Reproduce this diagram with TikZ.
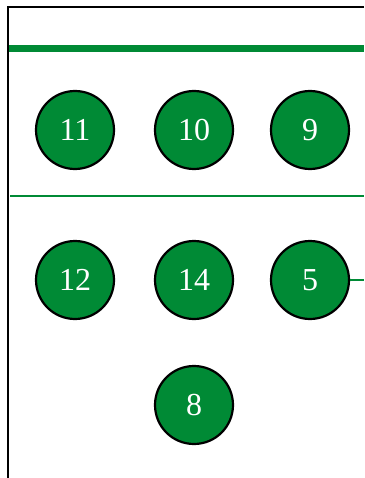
\documentclass[tikz,border=0pt]{standalone}
\usepackage{fontspec}
\setmainfont{Liberation Serif}
\definecolor{pgreen}{RGB}{0,138,53}
\begin{document}
\begin{tikzpicture}[x=1pt,y=-1pt,
  stop/.style={circle,draw=black,line width=2.2pt,fill=pgreen,minimum size=78pt,inner sep=0pt,
    text=white,font=\fontsize{32}{32}\selectfont},
  frame/.style={black,line width=2pt},
  thick rule/.style={pgreen,line width=7pt},
  thin rule/.style={pgreen,line width=2pt}]
\useasboundingbox (0,0) rectangle (364,478);
\coordinate (tl) at (8,7);
\coordinate (tr) at (364,7);
\coordinate (bl) at (8,478);
\draw[frame] (tr) -- (tl) -- (bl);
\coordinate (g1a) at (9,48.5);
\coordinate (g1b) at (364,48.5);
\draw[thick rule] (g1a) -- (g1b);
\coordinate (g2a) at (10,196);
\coordinate (g2b) at (364,196);
\draw[thin rule] (g2a) -- (g2b);
\node[stop] (n11) at (75,130) {11};
\node[stop] (n10) at (194,130) {10};
\node[stop] (n9) at (310,130) {9};
\node[stop] (n12) at (75,280) {12};
\node[stop] (n14) at (194,280) {14};
\node[stop] (n5) at (310,280) {5};
\node[stop] (n8) at (194,405) {8};
\coordinate (e5) at (364,280);
\draw[thin rule] (n5) -- (e5);
\end{tikzpicture}
\end{document}
